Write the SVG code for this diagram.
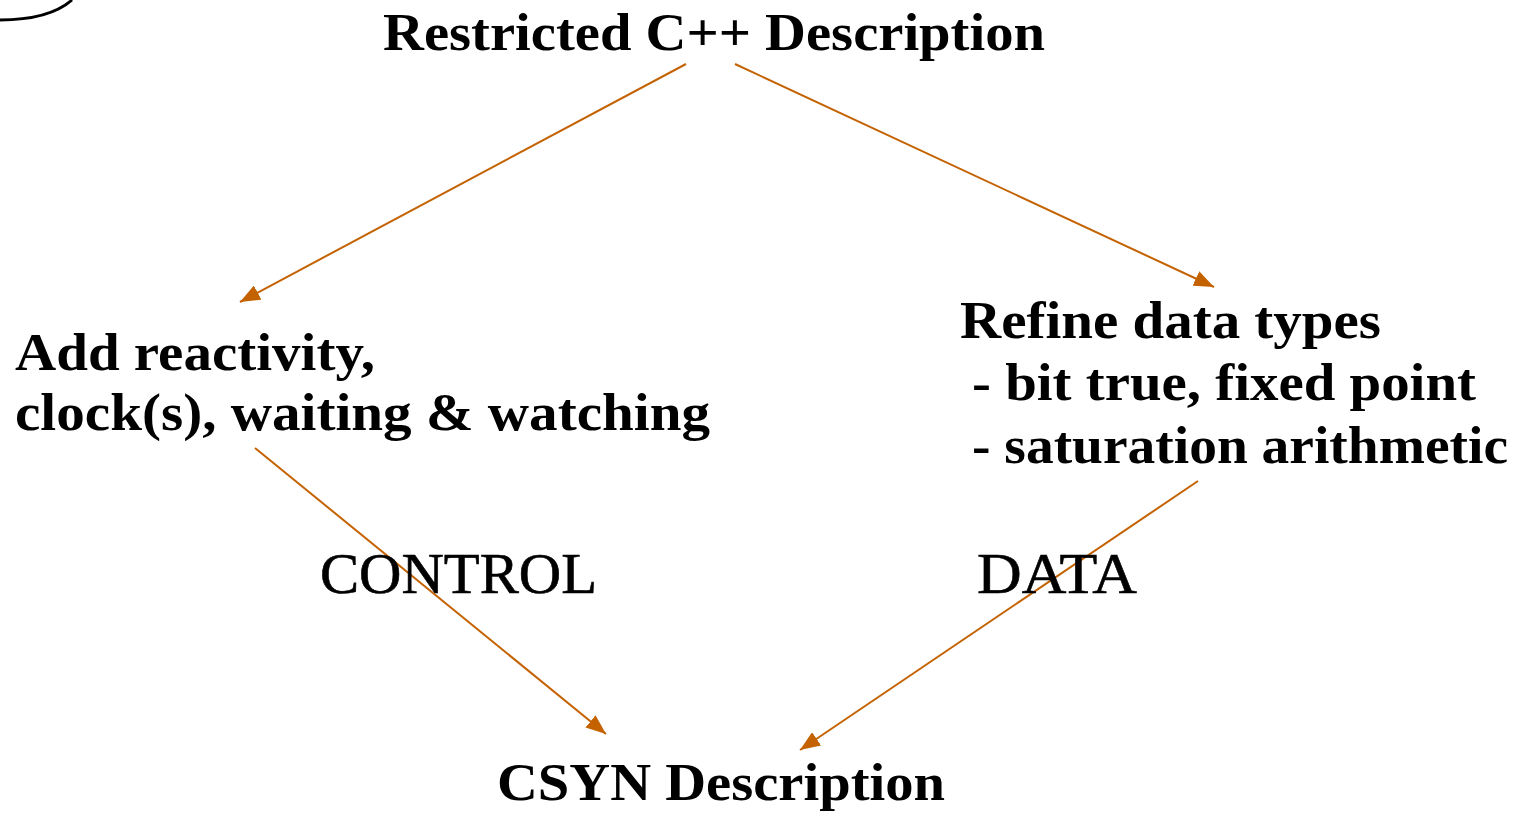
<svg xmlns="http://www.w3.org/2000/svg" width="1524" height="814" viewBox="0 0 1524 814">
  <style>
    .lbl { font-family: "Liberation Serif", "Times New Roman", serif; font-weight: bold; font-size: 52px; fill: #000; }
    .tag { font-family: "Liberation Serif", "Times New Roman", serif; font-weight: normal; font-size: 56px; fill: #000; stroke: #000; stroke-width: 0.6; }
    .flow { stroke: #C46200; stroke-width: 2; fill: none; marker-end: url(#head); }
  </style>
  <defs>
    <marker id="head" viewBox="0 0 20 16" refX="20" refY="8" markerWidth="20" markerHeight="16" markerUnits="userSpaceOnUse" orient="auto">
      <path d="M0,0 L20,8 L0,16 z" fill="#C46200"/>
    </marker>
  </defs>
  <rect width="1524" height="814" fill="#fff"/>

  <!-- corner of an outline shape -->
  <path d="M0,20 C28,20 55,15 72,0" stroke="#000" stroke-width="3" fill="none"/>

  <g id="connectors">
    <line class="flow" x1="686" y1="64" x2="240" y2="302"/>
    <line class="flow" x1="735" y1="64" x2="1214" y2="287"/>
    <line class="flow" x1="255" y1="448" x2="606" y2="734"/>
    <line class="flow" x1="1198" y1="481" x2="800" y2="750"/>
  </g>

  <g id="restricted">
    <text class="lbl" x="383" y="50" textLength="662" lengthAdjust="spacingAndGlyphs">Restricted C++ Description</text>
  </g>
  <g id="control-step">
    <text class="lbl" x="15" y="370" textLength="360" lengthAdjust="spacingAndGlyphs">Add reactivity,</text>
    <text class="lbl" x="15" y="430" textLength="695" lengthAdjust="spacingAndGlyphs">clock(s), waiting &amp; watching</text>
  </g>
  <g id="data-step">
    <text class="lbl" x="960" y="338" textLength="421" lengthAdjust="spacingAndGlyphs">Refine data types</text>
    <text class="lbl" x="972" y="400" textLength="504" lengthAdjust="spacingAndGlyphs">- bit true, fixed point</text>
    <text class="lbl" x="972" y="463" textLength="536" lengthAdjust="spacingAndGlyphs">- saturation arithmetic</text>
  </g>
  <g id="csyn">
    <text class="lbl" x="497" y="800" textLength="448" lengthAdjust="spacingAndGlyphs">CSYN Description</text>
  </g>
  <g id="branch-labels">
    <text class="tag" x="320" y="593" textLength="277" lengthAdjust="spacingAndGlyphs">CONTROL</text>
    <text class="tag" x="977" y="593" textLength="160" lengthAdjust="spacingAndGlyphs">DATA</text>
  </g>
</svg>
